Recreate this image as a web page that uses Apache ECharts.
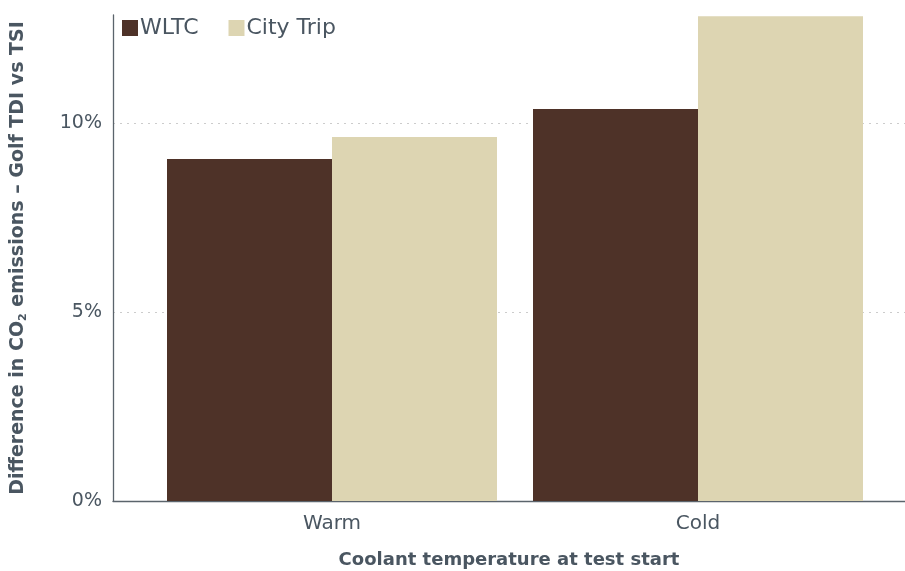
<!DOCTYPE html>
<html>
<head>
<meta charset="utf-8">
<script src="https://cdn.jsdelivr.net/npm/echarts@6/dist/echarts.min.js"></script>
<style>
  html, body { margin: 0; padding: 0; background: #fff; }
  #chart { width: 905px; height: 571px; }
</style>
</head>
<body>
<div id="chart"></div>
<script>
const categories = ["Warm", "Cold"];
const wltc = [9.05, 10.37];
const cityTrip = [9.63, 12.83];
const yTicks = [0, 5, 10];

const textColor = "#4a5661";
const axisColor = "#5b646c";
const font = "DejaVu Sans";

const chart = echarts.init(document.getElementById("chart"));
const option = {
  animation: false,
  textStyle: { fontFamily: font },
  color: ["#4e3228", "#ddd5b2"],
  legend: {
    left: 117,
    top: 12,
    icon: "rect",
    itemWidth: 16,
    itemHeight: 16,
    itemGap: 30,
    textStyle: { fontSize: 22, color: textColor, fontFamily: font, padding: [0, 0, 0, -3] },
    data: ["WLTC", "City Trip"]
  },
  grid: [
    { left: 113, right: 0, top: 15, bottom: 70, outerBoundsMode: "none" },
    { left: 149, width: 732, top: 15, bottom: 70, outerBoundsMode: "none" }
  ],
  xAxis: [
    {
      gridIndex: 0,
      type: "category",
      data: [""],
      axisLine: { lineStyle: { color: axisColor, width: 1.3 } },
      axisTick: { show: false },
      axisLabel: { show: false },
      name: "Coolant temperature at test start",
      nameLocation: "middle",
      nameGap: 50,
      nameTextStyle: { fontSize: 18, fontWeight: "bold", color: textColor, fontFamily: font }
    },
    {
      gridIndex: 1,
      type: "category",
      data: categories,
      axisLine: { show: false },
      axisTick: { show: false },
      axisLabel: { fontSize: 20, color: textColor, margin: 13, fontFamily: font }
    }
  ],
  yAxis: [
    {
      gridIndex: 0,
      type: "value",
      min: 0,
      max: 12.86,
      interval: 5,
      axisLine: { show: true, lineStyle: { color: axisColor, width: 1.3 } },
      axisTick: { show: false },
      axisLabel: {
        fontSize: 19,
        color: textColor,
        margin: 11,
        fontFamily: font,
        formatter: v => (yTicks.indexOf(v) >= 0 ? v + "%" : "")
      },
      splitLine: {
        show: true,
        showMinLine: false,
        showMaxLine: false,
        lineStyle: { color: "#cccccc", type: [2, 5], width: 1 }
      },
      name: "Difference in CO{sub|2} emissions – Golf TDI vs TSI",
      nameLocation: "middle",
      nameGap: 84,
      nameTextStyle: {
        fontSize: 19,
        fontWeight: "bold",
        color: textColor,
        fontFamily: font,
        rich: {
          sub: { fontSize: 11, fontWeight: "bold", color: textColor, fontFamily: font, verticalAlign: "bottom", padding: [10, 0, 0, 0] }
        }
      }
    },
    {
      gridIndex: 1,
      type: "value",
      min: 0,
      max: 12.86,
      show: false,
      splitLine: { show: false }
    }
  ],
  series: [
    {
      name: "WLTC",
      type: "bar",
      xAxisIndex: 1,
      yAxisIndex: 1,
      barWidth: 165,
      barGap: "0%",
      data: wltc
    },
    {
      name: "City Trip",
      type: "bar",
      xAxisIndex: 1,
      yAxisIndex: 1,
      barWidth: 165,
      barGap: "0%",
      data: cityTrip
    }
  ]
};
chart.setOption(option);
</script>
</body>
</html>
